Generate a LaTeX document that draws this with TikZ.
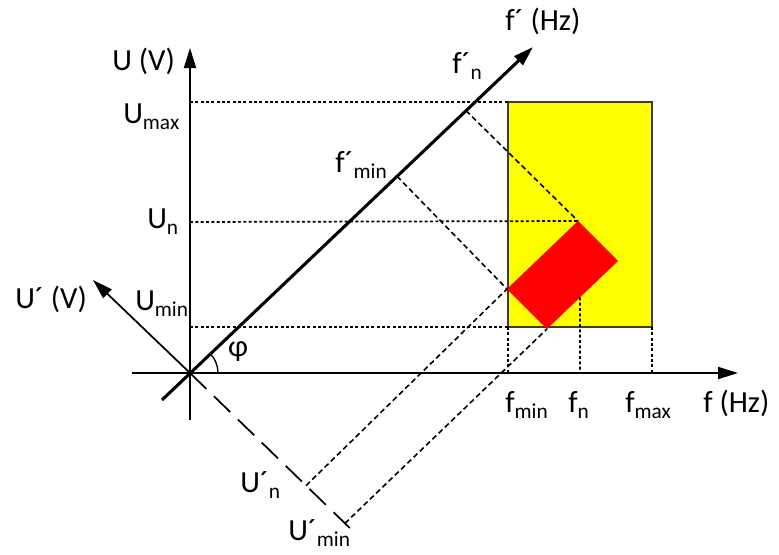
\documentclass[tikz,border=0pt]{standalone}
\usepackage{fontspec}
\setmainfont{Carlito}
\usetikzlibrary{arrows.meta,calc}
\definecolor{WindowYellow}{RGB}{255,255,0}
\definecolor{AreaRed}{RGB}{255,0,0}
\definecolor{FrameGray}{RGB}{60,60,60}
\newcommand{\lowidx}[1]{\raisebox{-4.5pt}{\fontsize{16}{18}\selectfont #1}}
\tikzset{
  axis/.style={line width=1.5pt,-{Triangle[length=15pt,width=9pt]}},
  guide/.style={line width=1.3pt,dash pattern=on 2.2pt off 1.8pt},
  projline/.style={line width=1.2pt,dash pattern=on 4pt off 2.5pt},
  lbl/.style={font=\fontsize{23}{27}\selectfont,inner sep=0pt,anchor=base west}
}

\begin{document}
\begin{tikzpicture}[x=0.75pt,y=-0.75pt]
\useasboundingbox (0,0) rectangle (779,554);

% Origin and axis ends
\coordinate (O) at (190,373);
\coordinate (fleft) at (132,373);
\coordinate (ftip) at (738,373);
\coordinate (ubot) at (190,420);
\coordinate (utip) at (190,48);
\coordinate (fpbot) at (162,400);
\coordinate (fptip) at (533,47);
\coordinate (uptip) at (93,280);
\coordinate (upend) at (357,535);

% Yellow window
\coordinate (wTL) at (508,102);
\coordinate (wBR) at (652,327);
\fill[WindowYellow] (wTL) rectangle (wBR);
\draw[FrameGray,line width=1.2pt] (wTL) rectangle (wBR);

% Red operating area
\coordinate (rL) at (507,289);
\coordinate (rT) at (578,221);
\coordinate (rR) at (618,261);
\coordinate (rB) at (547,329);
\fill[AreaRed] (rL) -- (rT) -- (rR) -- (rB) -- cycle;

% Points on the axes
\coordinate (Umax) at (190,102);
\coordinate (Un) at (190,222);
\coordinate (Umin) at (190,327);
\coordinate (fmin) at (508,373);
\coordinate (fn) at (580,373);
\coordinate (fmax) at (652,373);
\coordinate (fpmin) at ($(O)!0.6035!(fptip)$);
\coordinate (fpn) at ($(O)!0.8047!(fptip)$);
\coordinate (upn) at ($(O)!0.695!(upend)$);
\coordinate (upmin) at ($(O)!0.928!(upend)$);
\coordinate (rfn) at ($(rB)!0.465!(rR)$);

% Dotted guides
\draw[guide] (Umax) -- (wTL);
\draw[guide] (Un) -- (rT);
\draw[guide] (Umin) -- (wTL |- wBR);
\draw[guide] (wTL |- wBR) -- (fmin);
\draw[guide] (rfn) -- (fn);
\draw[guide] (wBR) -- (fmax);

% Projections onto the rotated axes
\draw[projline] (fpmin) -- (rL);
\draw[projline] (fpn) -- (rT);
\draw[projline] (upn) -- (rL);
\draw[projline] (upmin) -- (rB);

% Axes
\draw[axis] (fleft) -- (ftip);
\draw[axis] (ubot) -- (utip);
\draw[axis,line width=2.3pt] (fpbot) -- (fptip);
\draw[axis,line width=1.3pt] (O) -- (uptip);
\draw[line width=1.3pt,dash pattern=on 17pt off 8pt] (O) -- (upend);
\draw[line width=1pt] ($(O)+(28,0)$) arc[start angle=0,end angle=-43,radius=28];

% Labels
\node[lbl] (labU) at (112,70) {U (V)};
\node[lbl] (labUmax) at (123,123) {U\lowidx{max}};
\node[lbl] (labUn) at (147,228) {U\lowidx{n}};
\node[lbl] (labUmin) at (135,310) {U\lowidx{min}};
\node[lbl] (labUp) at (15,308) {U´ (V)};
\node[lbl] (labfpHz) at (505,30) {f´ (Hz)};
\node[lbl] (labfpn) at (452,73) {f´\lowidx{n}};
\node[lbl] (labfpmin) at (335,172) {f´\lowidx{min}};
\node[lbl] (labfmin) at (505,412) {f\lowidx{min}};
\node[lbl] (labfn) at (568,412) {f\lowidx{n}};
\node[lbl] (labfmax) at (625,412) {f\lowidx{max}};
\node[lbl] (labfHz) at (703,412) {f (Hz)};
\node[lbl] (labUpn) at (240,492) {U´\lowidx{n}};
\node[lbl] (labUpmin) at (288,540) {U´\lowidx{min}};
\node[font=\fontsize{23}{27}\selectfont,inner sep=0pt] (labphi) at (238,352) {φ};

\end{tikzpicture}
\end{document}
